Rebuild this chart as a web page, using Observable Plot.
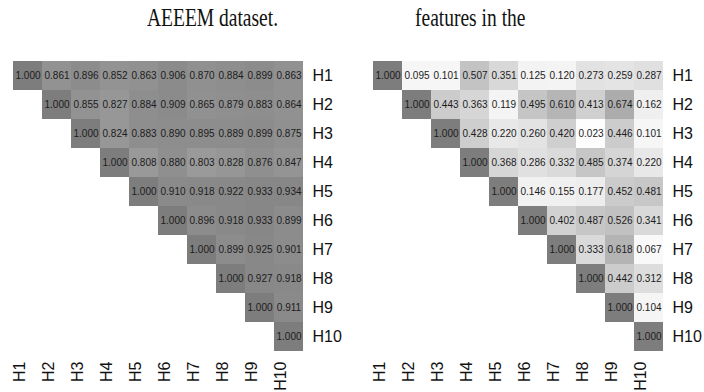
<!DOCTYPE html>
<html>
<head>
<meta charset="utf-8">
<script src="https://cdn.jsdelivr.net/npm/d3@7"></script>
<script src="https://cdn.jsdelivr.net/npm/@observablehq/plot@0.6"></script>
<style>
  html, body { margin: 0; padding: 0; background: #fff; }
  #wrap { position: relative; width: 704px; height: 392px; overflow: hidden; }
  .title { position: absolute; font-family: "Liberation Serif", "Times New Roman", serif; font-size: 26px; line-height: 26px; color: #111; white-space: nowrap; transform: scaleX(0.75); transform-origin: left top; }
  .panel { position: absolute; top: 40px; }
</style>
</head>
<body>
<div id="wrap">
  <div class="title" style="left:147px; top:5px;">AEEEM dataset.</div>
  <div class="title" style="left:415px; top:5px;">features in the</div>
  <div class="panel" id="left" style="left:0px;"></div>
  <div class="panel" id="right" style="left:360px;"></div>
</div>
<script>
const labels = ["H1","H2","H3","H4","H5","H6","H7","H8","H9","H10"];

// AEEEM matrix (upper triangle, each row starts at its diagonal)
const aeeemRows = [
  [1.000, 0.861, 0.896, 0.852, 0.863, 0.906, 0.870, 0.884, 0.899, 0.863],
  [1.000, 0.855, 0.827, 0.884, 0.909, 0.865, 0.879, 0.883, 0.864],
  [1.000, 0.824, 0.883, 0.890, 0.895, 0.889, 0.899, 0.875],
  [1.000, 0.808, 0.880, 0.803, 0.828, 0.876, 0.847],
  [1.000, 0.910, 0.918, 0.922, 0.933, 0.934],
  [1.000, 0.896, 0.918, 0.933, 0.899],
  [1.000, 0.899, 0.925, 0.901],
  [1.000, 0.927, 0.918],
  [1.000, 0.911],
  [1.000]
];

// Second matrix
const featureRows = [
  [1.000, 0.095, 0.101, 0.507, 0.351, 0.125, 0.120, 0.273, 0.259, 0.287],
  [1.000, 0.443, 0.363, 0.119, 0.495, 0.610, 0.413, 0.674, 0.162],
  [1.000, 0.428, 0.220, 0.260, 0.420, 0.023, 0.446, 0.101],
  [1.000, 0.368, 0.286, 0.332, 0.485, 0.374, 0.220],
  [1.000, 0.146, 0.155, 0.177, 0.452, 0.481],
  [1.000, 0.402, 0.487, 0.526, 0.341],
  [1.000, 0.333, 0.618, 0.067],
  [1.000, 0.442, 0.312],
  [1.000, 0.104],
  [1.000]
];

function toCells(rows) {
  const out = [];
  rows.forEach((r, i) => r.forEach((v, k) => out.push({row: labels[i], col: labels[i + k], v})));
  return out;
}

function heat(rows, width) {
  const data = toCells(rows);
  return Plot.plot({
    width: width,
    height: 352,
    marginLeft: 10,
    marginRight: width - 306,
    marginTop: 17,
    marginBottom: 38,
    style: {fontFamily: "'Liberation Sans', Arial, sans-serif", fontSize: "16px", color: "#111", background: "transparent"},
    x: {domain: labels, padding: 0, axis: null},
    y: {domain: labels, padding: 0, axis: null},
    color: {type: "pow", exponent: 1.15, domain: [0, 1], range: ["#ffffff", "#7d7d7d"]},
    marks: [
      Plot.cell(data, {x: "col", y: "row", fill: "v"}),
      Plot.text(data, {x: "col", y: "row", text: d => d.v.toFixed(3), fontSize: 10, fill: "#1c1c1c"}),
      Plot.axisY({anchor: "right", tickSize: 0, tickPadding: 6, label: null, fontSize: 16}),
      Plot.axisX({anchor: "bottom", tickSize: 0, tickPadding: 7, tickRotate: -90, textAnchor: "end", lineAnchor: "bottom", dx: -3, label: null, fontSize: 16})
    ]
  });
}

document.getElementById("left").appendChild(heat(aeeemRows, 352));
document.getElementById("right").appendChild(heat(featureRows, 344));
</script>
</body>
</html>
